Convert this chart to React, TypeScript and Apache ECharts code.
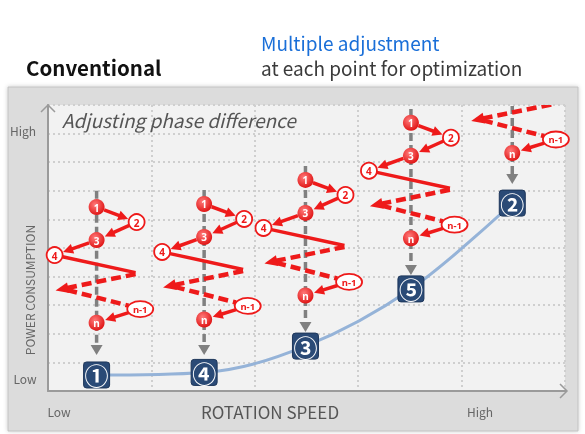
import React, { useEffect, useRef } from 'react';
import * as echarts from 'echarts';

// ---- data ----
const xEndLabels = ['Low', 'High'];
const yEndLabels = ['Low', 'High'];
const xAxisName = 'ROTATION SPEED';
const yAxisName = 'POWER CONSUMPTION';
const columnSpeed = [0.47, 1.51, 2.49, 3.51, 4.49];
const optimumPower = [0.56, 0.65, 1.57, 3.57, 6.57];
const boxLabels = ['①', '④', '③', '⑤', '②'];
const firstTrialPower = [6.43, 6.54, 7.38, 9.38, 12.36];
const searchTopPower = [7.0, 7.03, 7.87, 9.86, 12.9];
const searchEndPower = [1.26, 1.26, 2.06, 4.06, 7.24];
const nodeLabels = ['1', '2', '3', '4', 'n-1', 'n'];

// zig-zag search template (offsets from trial 1, in axis units)
const TPL: Record<string, [number, number]> = {
  p1: [0, 0],
  p2: [0.387, -0.524],
  p3: [0, -1.154],
  p4: [-0.406, -1.678],
  sEnd: [0.377, -2.29],
  tip: [-0.397, -2.92],
  nm1: [0.422, -3.566],
  n: [0, -4.04],
};

const RED = '#ee1a1a';
const GRAY = '#808080';
const R = 8;
const RX = 13;
const RY = 8;
const FONT = '"Noto Sans CJK JP", "Noto Sans", sans-serif';
const BOX_PATH = 'path://M3,0 H23 Q26,0 26,3 V23 Q26,26 23,26 H3 Q0,26 0,23 V3 Q0,0 3,0 Z';

type Pt = number[];
const unit = (a: Pt, b: Pt) => {
  const dx = b[0] - a[0], dy = b[1] - a[1];
  const L = Math.hypot(dx, dy) || 1;
  return [dx / L, dy / L];
};
const ellR = (u: Pt) => (RX * RY) / Math.sqrt((RY * u[0]) ** 2 + (RX * u[1]) ** 2);

function headEl(tip: Pt, u: Pt, len: number, hw: number, color: string) {
  const base = [tip[0] - u[0] * len, tip[1] - u[1] * len];
  const p = [-u[1], u[0]];
  return {
    type: 'polygon',
    shape: {
      points: [
        [tip[0], tip[1]],
        [base[0] + p[0] * hw, base[1] + p[1] * hw],
        [base[0] - p[0] * hw, base[1] - p[1] * hw],
      ],
    },
    style: { fill: color },
  };
}

function arrowEls(a: Pt, b: Pt, ra: number, rb: number, color: string, width: number, len: number, hw: number, dash?: number[]) {
  const u = unit(a, b);
  const s = [a[0] + u[0] * ra, a[1] + u[1] * ra];
  const e = [b[0] - u[0] * rb, b[1] - u[1] * rb];
  const le = [e[0] - u[0] * len * 0.8, e[1] - u[1] * len * 0.8];
  return [
    {
      type: 'line',
      shape: { x1: s[0], y1: s[1], x2: le[0], y2: le[1] },
      style: { stroke: color, lineWidth: width, lineDash: dash || null, fill: null },
    },
    headEl(e, u, len, hw, color),
  ];
}

function renderSearchLines(params: any, api: any) {
  const x = api.value(0), y = api.value(1), top = api.value(2), end = api.value(3);
  const P = (k: string) => api.coord([x + TPL[k][0], y + TPL[k][1]]);
  const children: any[] = [];
  const g1 = api.coord([x, top]);
  const g2 = api.coord([x, end]);
  children.push(...arrowEls(g1, g2, 0, 0, GRAY, 3.5, 10, 6, [8, 4]));
  const p1 = P('p1'), p2 = P('p2'), p3 = P('p3'), p4 = P('p4');
  const sEnd = P('sEnd'), tip = P('tip'), nm1 = P('nm1'), n = P('n');
  children.push(...arrowEls(p1, p2, R, R + 1, RED, 3.5, 10, 5));
  children.push(...arrowEls(p2, p3, R, R + 1, RED, 3.5, 10, 5));
  children.push(...arrowEls(p3, p4, R, R + 1, RED, 3.5, 10, 5));
  const u4 = unit(p4, sEnd);
  children.push({
    type: 'line',
    shape: { x1: p4[0] + u4[0] * R, y1: p4[1] + u4[1] * R, x2: sEnd[0], y2: sEnd[1] },
    style: { stroke: RED, lineWidth: 3.5 },
  });
  const uT = unit(sEnd, tip);
  const tipBase = [tip[0] - uT[0] * 12, tip[1] - uT[1] * 12];
  children.push({
    type: 'line',
    shape: { x1: sEnd[0], y1: sEnd[1] + 1.5, x2: tipBase[0], y2: tipBase[1] },
    style: { stroke: RED, lineWidth: 4.5, lineDash: [10, 5] },
  });
  children.push(headEl(tip, uT, 13, 5.5, RED));
  const uN = unit(tipBase, nm1);
  const eN = [nm1[0] - uN[0] * ellR(uN), nm1[1] - uN[1] * ellR(uN)];
  children.push({
    type: 'line',
    shape: { x1: tipBase[0], y1: tipBase[1] + 2, x2: eN[0], y2: eN[1] },
    style: { stroke: RED, lineWidth: 4.5, lineDash: [10, 5] },
  });
  const uM = unit(nm1, n);
  children.push(...arrowEls(nm1, n, ellR(uM), R + 1, RED, 3.5, 10, 5));
  return { type: 'group', children };
}

function renderSearchNodes(params: any, api: any) {
  const x = api.value(0), y = api.value(1);
  const topY = params.coordSys.y;
  const keys = ['p1', 'p2', 'p3', 'p4', 'nm1', 'n'];
  const filled = [true, false, true, false, false, true];
  const children: any[] = [];
  keys.forEach((k, i) => {
    const c = api.coord([x + TPL[k][0], y + TPL[k][1]]);
    if (c[1] < topY) return;
    if (k === 'nm1') {
      children.push({
        type: 'ellipse',
        shape: { cx: c[0], cy: c[1], rx: RX, ry: RY },
        style: { fill: '#fff', stroke: RED, lineWidth: 1.8 },
      });
    } else {
      children.push({
        type: 'circle',
        shape: { cx: c[0], cy: c[1], r: R },
        style: filled[i]
          ? {
              fill: new echarts.graphic.RadialGradient(0.4, 0.35, 0.7, [
                { offset: 0, color: '#ff7a7a' },
                { offset: 1, color: '#de0f0f' },
              ]),
            }
          : { fill: '#fff', stroke: RED, lineWidth: 1.8 },
      });
    }
    children.push({
      type: 'text',
      x: c[0],
      y: c[1] + 0.5,
      style: {
        text: nodeLabels[i],
        fill: filled[i] ? '#fff' : RED,
        font: `bold ${k === 'nm1' ? 9.5 : 10}px "Noto Sans", sans-serif`,
        align: 'center',
        verticalAlign: 'middle',
        textAlign: 'center',
        textVerticalAlign: 'middle',
      },
    });
  });
  return { type: 'group', children };
}

function txt(text: string, x: number, y: number, font: string, fill: string, align = 'left', extra: any = {}) {
  return {
    type: 'text',
    x,
    y,
    z: 100,
    ...extra,
    style: { text, font, fill, align, verticalAlign: 'middle', textAlign: align, textVerticalAlign: 'middle' },
  };
}

export default function App() {
  const ref = useRef<HTMLDivElement>(null);
  useEffect(() => {
    const chart = echarts.init(ref.current!, null, { renderer: 'svg' });
    const searchData = columnSpeed.map((s, i) => [s, firstTrialPower[i], searchTopPower[i], searchEndPower[i]]);
    const curveData = columnSpeed.map((s, i) => [s, optimumPower[i]]);
    const option: any = {
      animation: false,
      textStyle: { fontFamily: FONT },
      grid: {
        left: 48,
        top: 105,
        width: 517,
        height: 286,
        show: true,
        backgroundColor: '#f2f2f2',
        borderWidth: 0,
      },
      xAxis: {
        type: 'value',
        min: 0,
        max: 5,
        interval: 1,
        axisLine: { show: true, lineStyle: { color: '#9a9a9a', width: 2 } },
        axisTick: { show: false },
        axisLabel: { show: false },
        splitLine: { show: true, lineStyle: { type: [2, 3], color: '#cfcfcf', width: 2 } },
      },
      yAxis: {
        type: 'value',
        min: 0,
        max: 10,
        interval: 1,
        axisLine: { show: true, lineStyle: { color: '#9a9a9a', width: 2 } },
        axisTick: { show: false },
        axisLabel: { show: false },
        splitLine: { show: true, lineStyle: { type: [2, 3], color: '#cfcfcf', width: 2 } },
      },
      graphic: {
        elements: [
          {
            type: 'rect',
            z: -10,
            shape: { x: 8, y: 87, width: 570, height: 344 },
            style: { fill: '#dcdcdc', stroke: '#c2c2c2', lineWidth: 1, shadowBlur: 4, shadowColor: 'rgba(0,0,0,0.2)' },
          },
          {
            type: 'polyline',
            z: 50,
            shape: { points: [[41, 112], [48, 105], [55, 112]] },
            style: { stroke: '#9a9a9a', lineWidth: 1.5, fill: null },
          },
          {
            type: 'polyline',
            z: 50,
            shape: { points: [[560, 384], [567, 391], [560, 398]] },
            style: { stroke: '#9a9a9a', lineWidth: 1.5, fill: null },
          },
          {
            type: 'line',
            z: 50,
            shape: { x1: 564, y1: 391, x2: 567, y2: 391 },
            style: { stroke: '#9a9a9a', lineWidth: 2 },
          },
          txt('Conventional', 26, 67, `bold 20.5px ${FONT}`, '#111111'),
          txt('Multiple adjustment', 261, 42, `19px ${FONT}`, '#1a6fd8'),
          txt('at each point for optimization', 261, 67, `19px ${FONT}`, '#3a3a3a'),
          txt('Adjusting phase difference', 62, 119, `italic 19px ${FONT}`, '#555555'),
          txt(yEndLabels[1], 23, 130, `12px ${FONT}`, '#666666', 'center'),
          txt(yEndLabels[0], 25, 378, `12px ${FONT}`, '#666666', 'center'),
          txt(yAxisName, 29, 290, `12px ${FONT}`, '#666666', 'center', { rotation: Math.PI / 2 }),
          txt(xEndLabels[0], 59, 411, `12px ${FONT}`, '#666666', 'center'),
          txt(xEndLabels[1], 480, 411, `12px ${FONT}`, '#666666', 'center'),
          txt(xAxisName, 270, 411, `17px ${FONT}`, '#555555', 'center'),
        ],
      },
      series: [
        {
          type: 'line',
          data: curveData,
          smooth: 0.35,
          showSymbol: false,
          symbol: 'none',
          lineStyle: { color: '#95b3d8', width: 3 },
          z: 1,
        },
        {
          type: 'custom',
          data: searchData,
          encode: { x: 0, y: 1 },
          clip: true,
          renderItem: renderSearchLines,
          z: 2,
        },
        {
          type: 'custom',
          data: searchData,
          encode: { x: 0, y: 1 },
          clip: false,
          renderItem: renderSearchNodes,
          z: 3,
        },
        {
          type: 'scatter',
          data: curveData,
          symbol: BOX_PATH,
          symbolSize: [26, 26],
          itemStyle: { color: '#2a4a76', borderColor: '#1d365a', borderWidth: 1, opacity: 1 },
          label: {
            show: true,
            position: 'inside',
            formatter: (p: any) => boxLabels[p.dataIndex],
            color: '#ffffff',
            fontSize: 24,
            fontWeight: 'bold',
            fontFamily: '"Noto Sans CJK JP", sans-serif',
          },
          z: 4,
        },
      ],
    };
    chart.setOption(option);
    return () => chart.dispose();
  }, []);
  return <div ref={ref} style={{ position: 'fixed', left: 0, top: 0, width: 585, height: 434 }} />;
}
